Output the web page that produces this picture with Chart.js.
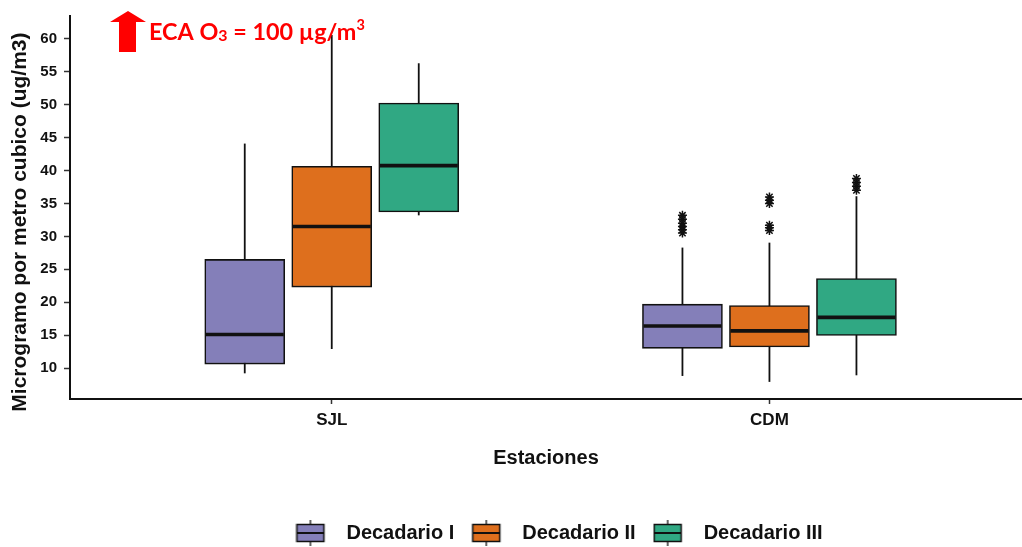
<!DOCTYPE html>
<html><head><meta charset="utf-8">
<script src="https://cdn.jsdelivr.net/npm/chart.js@4/dist/chart.umd.min.js"></script>
<style>html,body{margin:0;padding:0;background:#fff;} #wrap{width:1022px;height:547px;position:relative;}</style>
</head><body><div id="wrap"><canvas id="c" width="1022" height="547"></canvas></div>
<script>
// ---- data ----
const categories = ['SJL', 'CDM'];
const seriesNames = ['Decadario I', 'Decadario II', 'Decadario III'];
const yTicks = [10, 15, 20, 25, 30, 35, 40, 45, 50, 55, 60];

const lowI  = [9.2, 8.8];
const q1I   = [10.6, 13.0];
const medI  = [15.1, 16.4];
const q3I   = [26.5, 19.7];
const highI = [44.1, 28.3];
const outI  = [[], [30.5, 31.0, 31.5, 32.0, 32.6, 33.2]];

const lowII  = [12.9, 7.9];
const q1II   = [22.3, 13.2];
const medII  = [31.5, 15.65];
const q3II   = [40.65, 19.5];
const highII = [60.6, 29.05];
const outII  = [[], [30.9, 31.3, 31.7, 35.0, 35.5, 36.0]];

const lowIII  = [33.2, 8.9];
const q1III   = [33.7, 14.95];
const medIII  = [40.75, 17.7];
const q3III   = [50.25, 23.6];
const highIII = [56.3, 36.1];
const outIII  = [[], [37.0, 37.6, 38.2, 38.8]];

// ---- styling ----
const fillColors = ['#847FB9', '#DE6F1D', '#30A883'];
const INK = '#111111';
const FONT = "'Liberation Sans', Arial, sans-serif";

const lows = [lowI, lowII, lowIII];
const q1s = [q1I, q1II, q1III];
const meds = [medI, medII, medIII];
const q3s = [q3I, q3II, q3III];
const highs = [highI, highII, highIII];
const outs = [outI, outII, outIII];

function makeIcon(color) {
  const c = document.createElement('canvas');
  c.width = 41; c.height = 26;
  const g = c.getContext('2d');
  g.strokeStyle = INK;
  g.lineWidth = 1.3;
  g.beginPath(); g.moveTo(15, 0); g.lineTo(15, 4); g.moveTo(15, 22); g.lineTo(15, 26); g.stroke();
  g.fillStyle = color;
  g.fillRect(1, 4, 28, 18);
  g.lineWidth = 1.5;
  g.strokeRect(1.5, 4.5, 27, 17);
  g.lineWidth = 2;
  g.beginPath(); g.moveTo(1.5, 13); g.lineTo(28.5, 13); g.stroke();
  return c;
}
const icons = fillColors.map(makeIcon);

const boxPlugin = {
  id: 'boxParts',
  beforeDatasetsDraw(chart) {
    const ctx = chart.ctx, ys = chart.scales.y;
    ctx.save();
    ctx.strokeStyle = INK; ctx.lineWidth = 1.8;
    seriesNames.forEach((n, s) => {
      chart.getDatasetMeta(s).data.forEach((bar, i) => {
        const x = bar.x;
        ctx.beginPath();
        ctx.moveTo(x, ys.getPixelForValue(highs[s][i]));
        ctx.lineTo(x, ys.getPixelForValue(lows[s][i]));
        ctx.stroke();
      });
    });
    ctx.restore();
  },
  afterDatasetsDraw(chart) {
    const ctx = chart.ctx, ys = chart.scales.y;
    ctx.save();
    seriesNames.forEach((n, s) => {
      chart.getDatasetMeta(s).data.forEach((bar, i) => {
        const w = bar.width;
        const y = ys.getPixelForValue(meds[s][i]);
        ctx.strokeStyle = INK; ctx.lineWidth = 3.6;
        ctx.beginPath();
        ctx.moveTo(bar.x - w / 2 + 1, y); ctx.lineTo(bar.x + w / 2 - 1, y);
        ctx.stroke();
        ctx.lineWidth = 1.5;
        outs[s][i].forEach(v => {
          const py = ys.getPixelForValue(v), px = bar.x, r = 4.5;
          const d = r * Math.SQRT1_2;
          ctx.beginPath();
          ctx.moveTo(px - r, py); ctx.lineTo(px + r, py);
          ctx.moveTo(px, py - r); ctx.lineTo(px, py + r);
          ctx.moveTo(px - d, py - d); ctx.lineTo(px + d, py + d);
          ctx.moveTo(px - d, py + d); ctx.lineTo(px + d, py - d);
          ctx.stroke();
        });
      });
    });
    ctx.restore();
  },
  afterLayout(chart) {
    if (chart.legend) { chart.legend.left += 48; chart.legend.right += 48; }
  },
  afterDraw(chart) {
    const ctx = chart.ctx;
    ctx.save();
    ctx.fillStyle = '#FF0000';
    ctx.beginPath();
    ctx.moveTo(128, 11); ctx.lineTo(146, 22); ctx.lineTo(136, 22); ctx.lineTo(136, 52);
    ctx.lineTo(119, 52); ctx.lineTo(119, 22); ctx.lineTo(110, 22); ctx.closePath();
    ctx.fill();
    // annotation text
    const parts = [
      {t: 'ECA O', k: 1, dy: 0},
      {t: '3', k: 0.68, dy: 1},
      {t: ' = 100 \u00B5g/m', k: 1, dy: 0},
      {t: '3', k: 0.62, dy: -10}
    ];
    const base = 24, fam = "Lato, 'Liberation Sans', sans-serif";
    let total = 0;
    parts.forEach(p => { ctx.font = `bold ${base * p.k}px ${fam}`; total += ctx.measureText(p.t).width; });
    const size = base * 216 / total;
    let x = 149;
    ctx.textBaseline = 'alphabetic';
    parts.forEach(p => {
      ctx.font = `bold ${size * p.k}px ${fam}`;
      ctx.fillText(p.t, x, 40 + p.dy);
      x += ctx.measureText(p.t).width;
    });
    ctx.restore();
  }
};

function build() {
  Chart.defaults.font.family = FONT;
  Chart.defaults.color = INK;
  new Chart(document.getElementById('c'), {
    type: 'bar',
    data: {
      datasets: seriesNames.map((name, s) => ({
        label: name,
        data: categories.map((c, i) => ({x: i + 1, y: [q1s[s][i], q3s[s][i]]})),
        backgroundColor: fillColors[s],
        borderColor: INK,
        borderWidth: 1.6,
        borderSkipped: false,
        barThickness: 87,
        maxBarThickness: 80
      }))
    },
    options: {
      responsive: false,
      animation: false,
      devicePixelRatio: 1,
      layout: {padding: {top: 15, left: 0, right: 0, bottom: -6}},
      scales: {
        x: {
          type: 'linear', min: 0.402, max: 2.577, offset: false,
          afterBuildTicks: s => { s.ticks = categories.map((c, i) => ({value: i + 1})); },
          afterFit: s => { s.height = 107; },
          ticks: {
            callback: v => categories[Math.round(v) - 1],
            font: {size: 17, weight: 'bold'}, color: INK, padding: 6,
            autoSkip: false, maxRotation: 0
          },
          grid: {drawOnChartArea: false, offset: false, drawTicks: true, tickLength: 5, color: '#333', tickWidth: 1.5},
          border: {display: true, color: INK, width: 2},
          title: {display: true, text: 'Estaciones', font: {size: 20, weight: 'bold'}, color: INK, padding: {top: 0, bottom: 36}}
        },
        y: {
          min: 5.3, max: 63.48, beginAtZero: false,
          afterBuildTicks: s => { s.ticks = yTicks.map(v => ({value: v})); },
          afterFit: s => { s.width = 70; },
          ticks: {font: {size: 15, weight: 'bold'}, color: INK, padding: 7},
          grid: {drawOnChartArea: false, drawTicks: true, tickLength: 6, color: '#333', tickWidth: 1.5},
          border: {display: true, color: INK, width: 2},
          title: {display: true, text: 'Microgramo por metro cubico (ug/m3)     ', font: {size: 21, weight: 'bold'}, color: INK, padding: {top: 8, bottom: 0}}
        }
      },
      plugins: {
        tooltip: {enabled: false},
        legend: {
          position: 'bottom', align: 'center',
          labels: {
            usePointStyle: true, pointStyleWidth: 41,
            font: {size: 20, weight: 'bold'}, color: INK, padding: 17,
            generateLabels: () => seriesNames.map((n, i) => ({
              text: n, pointStyle: icons[i], fillStyle: fillColors[i], strokeStyle: INK,
              lineWidth: 0, hidden: false, datasetIndex: i, fontColor: INK
            }))
          }
        }
      }
    },
    plugins: [boxPlugin]
  });
}

if (document.fonts && document.fonts.load) {
  Promise.all([
    document.fonts.load("bold 24px Lato"),
    document.fonts.load("bold 20px 'Liberation Sans'")
  ]).then(build, build);
} else { build(); }
</script>
</body></html>
